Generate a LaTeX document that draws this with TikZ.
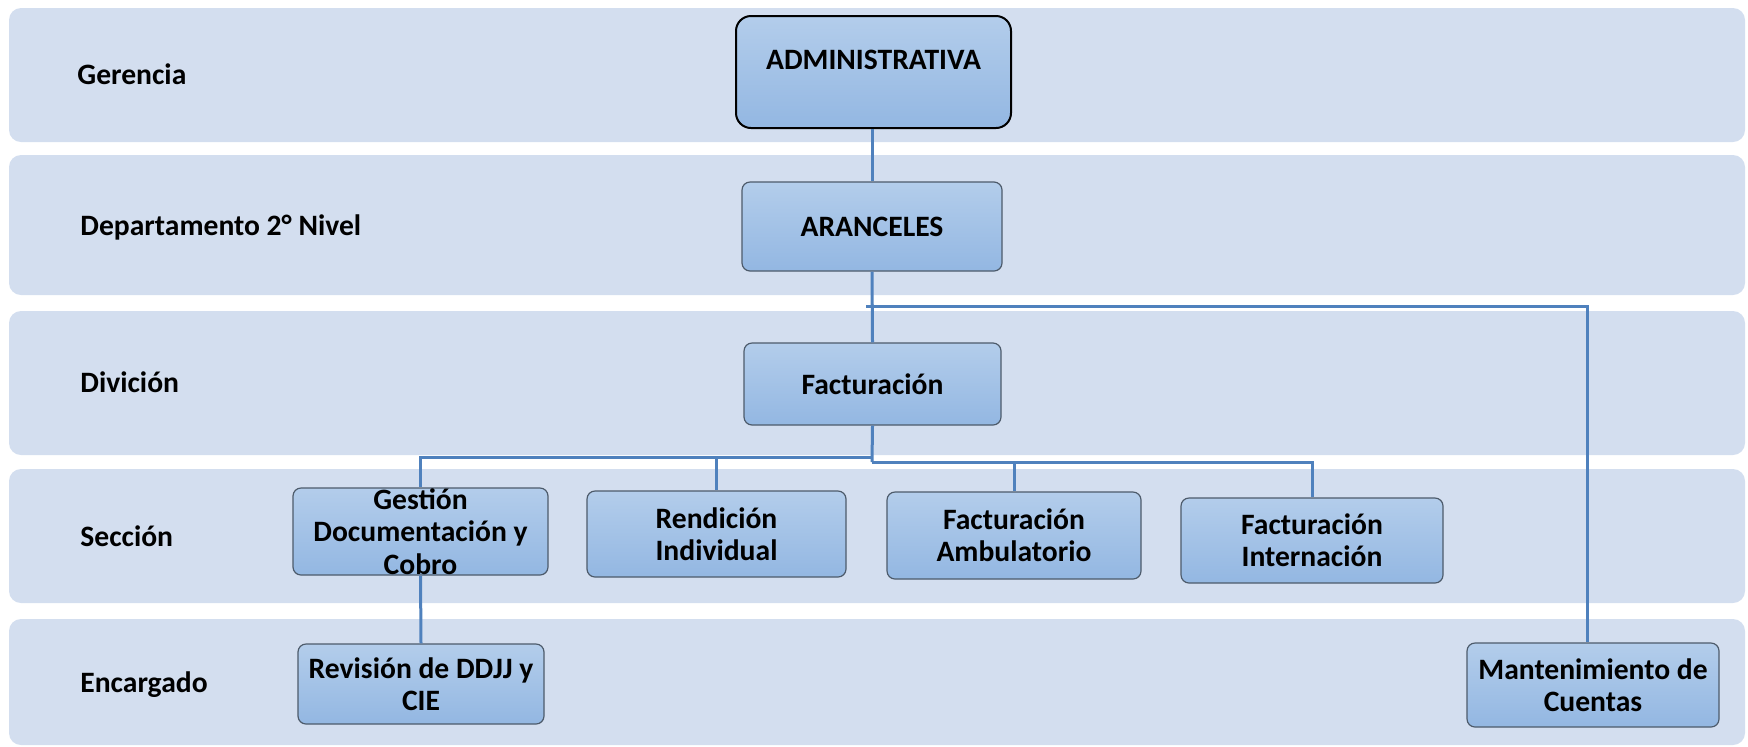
\documentclass[tikz,border=0pt]{standalone}
\usepackage{fontspec}
\setmainfont{Carlito}
\definecolor{band}{HTML}{D3DEEF}
\definecolor{boxtop}{HTML}{B3CDEB}
\definecolor{boxbot}{HTML}{93B7E2}
\definecolor{boxline}{HTML}{4D5B6B}
\definecolor{conn}{HTML}{4F81BD}
\tikzset{
  bandbox/.style={fill=band, draw=none, rounded corners=6pt},
  orgbox/.style={draw=boxline, line width=0.6pt, rounded corners=4pt,
    top color=boxtop, bottom color=boxbot, align=center, inner sep=0pt,
    font=\fontsize{14.8pt}{16.2pt}\selectfont\bfseries},
  rowlabel/.style={anchor=base west, inner sep=0pt,
    font=\fontsize{14.8pt}{16.2pt}\selectfont\bfseries},
  link/.style={draw=conn, line width=1.5pt}
}
\begin{document}
\begin{tikzpicture}[x=0.5pt, y=-0.5pt]
\useasboundingbox (0,0) rectangle (1748,746);
% bands
\fill[bandbox] (9,8) rectangle (1745,142);
\fill[bandbox] (9,155) rectangle (1745,295);
\fill[bandbox] (9,311) rectangle (1745,455);
\fill[bandbox] (9,469) rectangle (1745,603);
\fill[bandbox] (9,619) rectangle (1745,745);
% row labels
\node[rowlabel] (lg) at (77,84) {Gerencia};
\node[rowlabel] (ld) at (80,235) {Departamento 2° Nivel};
\node[rowlabel] (lv) at (80,392) {Divición};
\node[rowlabel] (ls) at (80,546) {Sección};
\node[rowlabel] (le) at (80,692) {Encargado};
% boxes
\node[orgbox, draw=black, line width=1pt, rounded corners=7.5pt,
  minimum width=137.5pt, minimum height=56pt, text height=10.5pt, text depth=13.5pt]
  (admin) at (873.5,72) {ADMINISTRATIVA};
\node[orgbox, minimum width=130pt, minimum height=44.5pt] (aran) at (872,226.5) {ARANCELES};
\node[orgbox, minimum width=128.5pt, minimum height=41pt] (fact) at (872.5,384) {Facturación};
\node[orgbox, minimum width=127.5pt, minimum height=43.5pt] (gest) at (420.5,531.5) {Gestión\\Documentación y\\Cobro};
\node[orgbox, minimum width=129.5pt, minimum height=43pt] (rend) at (716.5,534) {Rendición\\Individual};
\node[orgbox, minimum width=127pt, minimum height=43.5pt] (amb) at (1014,535.5) {Facturación\\Ambulatorio};
\node[orgbox, minimum width=131pt, minimum height=42.5pt] (intn) at (1312,540.5) {Facturación\\Internación};
\node[orgbox, minimum width=123pt, minimum height=40pt] (rev) at (421,684) {Revisión de DDJJ y\\CIE};
\node[orgbox, minimum width=126pt, minimum height=42pt] (mant) at (1593,685) {Mantenimiento de\\Cuentas};
% junction coordinates
\coordinate (j0) at (866,306);
\coordinate (jm) at (1587,306);
\coordinate (jl) at (872,457);
\coordinate (jr) at (872,462);
% connectors
\draw[link] (aran.north) -- (aran.north |- admin.south);
\draw[link] (aran.south) -- (fact.north);
\draw[link] (j0) -- (jm) -- (jm |- mant.north);
\draw[link] (fact.south) -- (jr);
\draw[link] (jl) -| (gest.north);
\draw[link] (rend.north |- jl) -- (rend.north);
\draw[link] (jr) -| (intn.north);
\draw[link] (amb.north |- jr) -- (amb.north);
\draw[link] (gest.south) -- (rev.north);
\end{tikzpicture}
\end{document}
